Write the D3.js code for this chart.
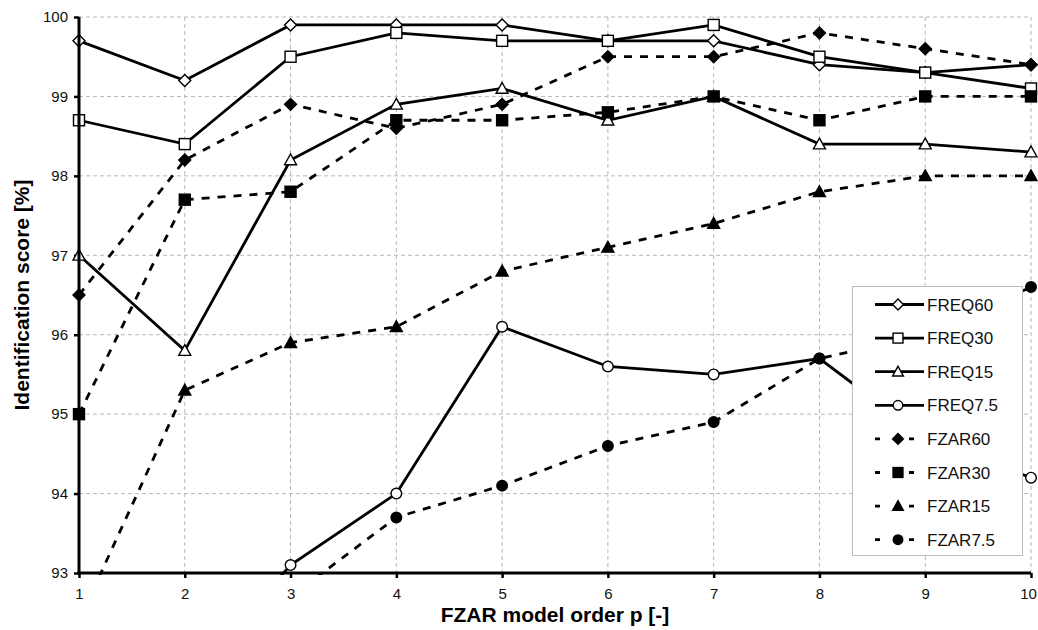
<!DOCTYPE html>
<html>
<head>
<meta charset="utf-8">
<script src="https://cdn.jsdelivr.net/npm/d3@7"></script>
<style>
  html, body { margin: 0; padding: 0; background: #fff; }
  svg { display: block; font-family: "Liberation Sans", Arial, Helvetica, sans-serif; }
</style>
</head>
<body>
<svg id="chart" width="1038" height="630"></svg>
<script>
// ---- data ----
const orders = [1, 2, 3, 4, 5, 6, 7, 8, 9, 10];
const yTicks = [93, 94, 95, 96, 97, 98, 99, 100];
const seriesNames = ["FREQ60", "FREQ30", "FREQ15", "FREQ7.5", "FZAR60", "FZAR30", "FZAR15", "FZAR7.5"];
const freq60 = [99.7, 99.2, 99.9, 99.9, 99.9, 99.7, 99.7, 99.4, 99.3, 99.4];
const freq30 = [98.7, 98.4, 99.5, 99.8, 99.7, 99.7, 99.9, 99.5, 99.3, 99.1];
const freq15 = [97.0, 95.8, 98.2, 98.9, 99.1, 98.7, 99.0, 98.4, 98.4, 98.3];
const freq75 = [null, 91.6, 93.1, 94.0, 96.1, 95.6, 95.5, 95.7, 94.7, 94.2];
const fzar60 = [96.5, 98.2, 98.9, 98.6, 98.9, 99.5, 99.5, 99.8, 99.6, 99.4];
const fzar30 = [95.0, 97.7, 97.8, 98.7, 98.7, 98.8, 99.0, 98.7, 99.0, 99.0];
const fzar15 = [92.4, 95.3, 95.9, 96.1, 96.8, 97.1, 97.4, 97.8, 98.0, 98.0];
const fzar75 = [null, null, 92.7, 93.7, 94.1, 94.6, 94.9, 95.7, 96.0, 96.6];
const xTitle = "FZAR model order p [-]";
const yTitle = "Identification score [%]";

// ---- styles ----
const styles = [
  { values: freq60, marker: "diamond", fill: "#fff", dashed: false },
  { values: freq30, marker: "square", fill: "#fff", dashed: false },
  { values: freq15, marker: "triangle", fill: "#fff", dashed: false },
  { values: freq75, marker: "circle", fill: "#fff", dashed: false },
  { values: fzar60, marker: "diamond", fill: "#000", dashed: true },
  { values: fzar30, marker: "square", fill: "#000", dashed: true },
  { values: fzar15, marker: "triangle", fill: "#000", dashed: true },
  { values: fzar75, marker: "circle", fill: "#000", dashed: true }
];

const svg = d3.select("#chart");
const W = 1038, H = 630;
const margin = { left: 79, right: 7, top: 17, bottom: 57 };
const x = d3.scaleLinear().domain([1, 10]).range([margin.left, W - margin.right]);
const y = d3.scaleLinear().domain([93, 100]).range([H - margin.bottom, margin.top]);

// grid
const grid = svg.append("g");
grid.selectAll("line.h").data(yTicks.filter(d => d > 93)).join("line")
  .attr("x1", x(1)).attr("x2", x(10))
  .attr("y1", d => y(d)).attr("y2", d => y(d))
  .attr("stroke", "#b8b8b8").attr("stroke-width", 1).attr("stroke-dasharray", "4,3");
grid.selectAll("line.v").data(orders.filter(d => d > 1)).join("line")
  .attr("x1", d => x(d)).attr("x2", d => x(d))
  .attr("y1", y(100)).attr("y2", y(93))
  .attr("stroke", "#b8b8b8").attr("stroke-width", 1).attr("stroke-dasharray", "4,3");

// axes
const xAxis = d3.axisBottom(x).tickValues(orders).tickSize(5).tickPadding(6).tickFormat(d3.format("d"));
const yAxis = d3.axisLeft(y).tickValues(yTicks).tickSize(5).tickPadding(6).tickFormat(d3.format("d"));

const gx = svg.append("g").attr("transform", `translate(0,${y(93)})`).call(xAxis);
const gy = svg.append("g").attr("transform", `translate(${x(1)},0)`).call(yAxis);
[gx, gy].forEach(g => {
  g.select(".domain").remove();
  g.selectAll(".tick line").attr("stroke", "#000").attr("stroke-width", 2.5);
  g.selectAll(".tick text").attr("fill", "#111").style("font-size", "15px")
    .style("font-family", "\"Liberation Sans\", Arial, sans-serif");
});
gx.selectAll(".tick text").attr("dy", "1em");
gx.selectAll(".tick").filter(d => d === 10).select("text").attr("dx", -3);

// clip
svg.append("clipPath").attr("id", "plotclip").append("rect")
  .attr("x", 0).attr("y", 0).attr("width", W).attr("height", y(93) + 2);

const plot = svg.append("g").attr("clip-path", "url(#plotclip)");

const line = d3.line()
  .defined(d => d.v !== null)
  .x(d => x(d.x)).y(d => y(d.v));

function drawMarker(sel, type, fill, cx, cy, scale) {
  const s = scale || 1;
  const sw = 1.4;
  if (type === "diamond") {
    const r = 6 * s;
    sel.append("path").attr("d", `M${cx},${cy - r}L${cx + r},${cy}L${cx},${cy + r}L${cx - r},${cy}Z`)
      .attr("fill", fill).attr("stroke", "#000").attr("stroke-width", sw);
  } else if (type === "square") {
    const r = 5.5 * s;
    sel.append("rect").attr("x", cx - r).attr("y", cy - r).attr("width", 2 * r).attr("height", 2 * r)
      .attr("fill", fill).attr("stroke", "#000").attr("stroke-width", sw);
  } else if (type === "triangle") {
    const r = 6 * s;
    sel.append("path").attr("d", `M${cx},${cy - r}L${cx + r},${cy + r * 0.8}L${cx - r},${cy + r * 0.8}Z`)
      .attr("fill", fill).attr("stroke", "#000").attr("stroke-width", sw);
  } else {
    sel.append("circle").attr("cx", cx).attr("cy", cy).attr("r", 5.3 * s)
      .attr("fill", fill).attr("stroke", "#000").attr("stroke-width", sw);
  }
}

styles.forEach(st => {
  const pts = orders.map((o, i) => ({ x: o, v: st.values[i] }));
  const g = plot.append("g");
  g.append("path").datum(pts).attr("d", line)
    .attr("fill", "none").attr("stroke", "#000").attr("stroke-width", 2.8)
    .attr("stroke-dasharray", st.dashed ? "8,8" : null)
    .attr("stroke-linejoin", "miter");
  pts.filter(p => p.v !== null).forEach(p => drawMarker(g, st.marker, st.fill, x(p.x), y(p.v)));
});

// axis lines on top
svg.append("line").attr("x1", x(1)).attr("x2", x(1)).attr("y1", y(100)).attr("y2", y(93) + 1.5)
  .attr("stroke", "#000").attr("stroke-width", 3);
svg.append("line").attr("x1", x(1) - 1.5).attr("x2", x(10)).attr("y1", y(93)).attr("y2", y(93))
  .attr("stroke", "#000").attr("stroke-width", 3);

// axis titles
svg.append("text").attr("x", (x(1) + x(10)) / 2).attr("y", 622)
  .attr("text-anchor", "middle").style("font-size", "21px").style("font-weight", "bold")
  .text(xTitle);
svg.append("text").attr("transform", `translate(29,${(y(93) + y(100)) / 2}) rotate(-90)`)
  .attr("text-anchor", "middle").style("font-size", "21px").style("font-weight", "bold")
  .text(yTitle);

// legend
const lg = svg.append("g");
lg.append("rect").attr("x", 852.5).attr("y", 286.5).attr("width", 170).attr("height", 269)
  .attr("fill", "#fff").attr("stroke", "#bdbdbd").attr("stroke-width", 1);
styles.forEach((st, i) => {
  const cy = 304.5 + i * 33.6;
  lg.append("line").attr("x1", 875).attr("x2", st.dashed ? 914 : 924).attr("y1", cy).attr("y2", cy)
    .attr("stroke", "#000").attr("stroke-width", 2.8)
    .attr("stroke-dasharray", st.dashed ? "5,29,5" : null);
  drawMarker(lg, st.marker, st.fill, 898, cy, 0.9);
  lg.append("text").attr("x", 927).attr("y", cy).attr("dy", "0.36em")
    .style("font-size", "17px").attr("fill", "#111").text(seriesNames[i]);
});
</script>
</body>
</html>
